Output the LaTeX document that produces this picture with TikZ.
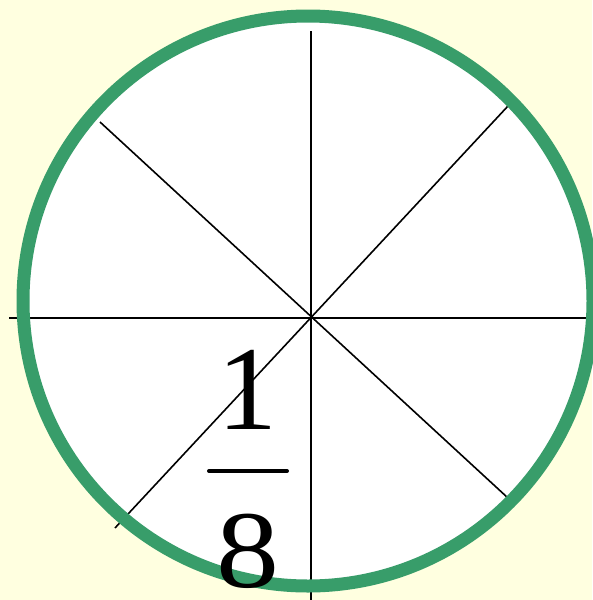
\documentclass[tikz,border=0pt]{standalone}
\usepackage{fontspec}
\setmainfont{Liberation Serif}
\definecolor{paper}{HTML}{FFFFE0}
\definecolor{rim}{HTML}{389D6A}
\begin{document}
\begin{tikzpicture}[x=1pt, y=-1pt,
  spoke/.style={line width=1.6pt, black},
  digit/.style={inner sep=0pt, anchor=base, font=\fontsize{120}{122}\selectfont}]
  % background
  \fill[paper] (0,0) rectangle (592,600);
  \useasboundingbox (0,0) rectangle (592,600);
  % disc
  \fill[white] (308,301) circle (285);
  % spokes
  \coordinate (hl) at (9,318);
  \coordinate (hr) at (600,318);
  \coordinate (vt) at (311,31);
  \coordinate (vb) at (311,600);
  \coordinate (dtl) at (100,122);
  \coordinate (dbr) at (508,498);
  \coordinate (dtr) at (508,106);
  \coordinate (dbl) at (115,528);
  \draw[spoke] (hl) -- (hr);
  \draw[spoke] (vt) -- (vb);
  \draw[spoke] (dtl) -- (dbr);
  \draw[spoke] (dtr) -- (dbl);
  % rim
  \draw[rim, line width=13pt] (308,301) circle (285);
  % fraction
  \node[digit] (one) at (247,429) {1};
  \node[digit] (eight) at (248,587) {\scalebox{1.05}[0.92]{8}};
  \coordinate (barl) at (209,471);
  \coordinate (barr) at (287,471);
  \draw[line width=4pt, line cap=round] (barl) -- (barr);
\end{tikzpicture}
\end{document}
